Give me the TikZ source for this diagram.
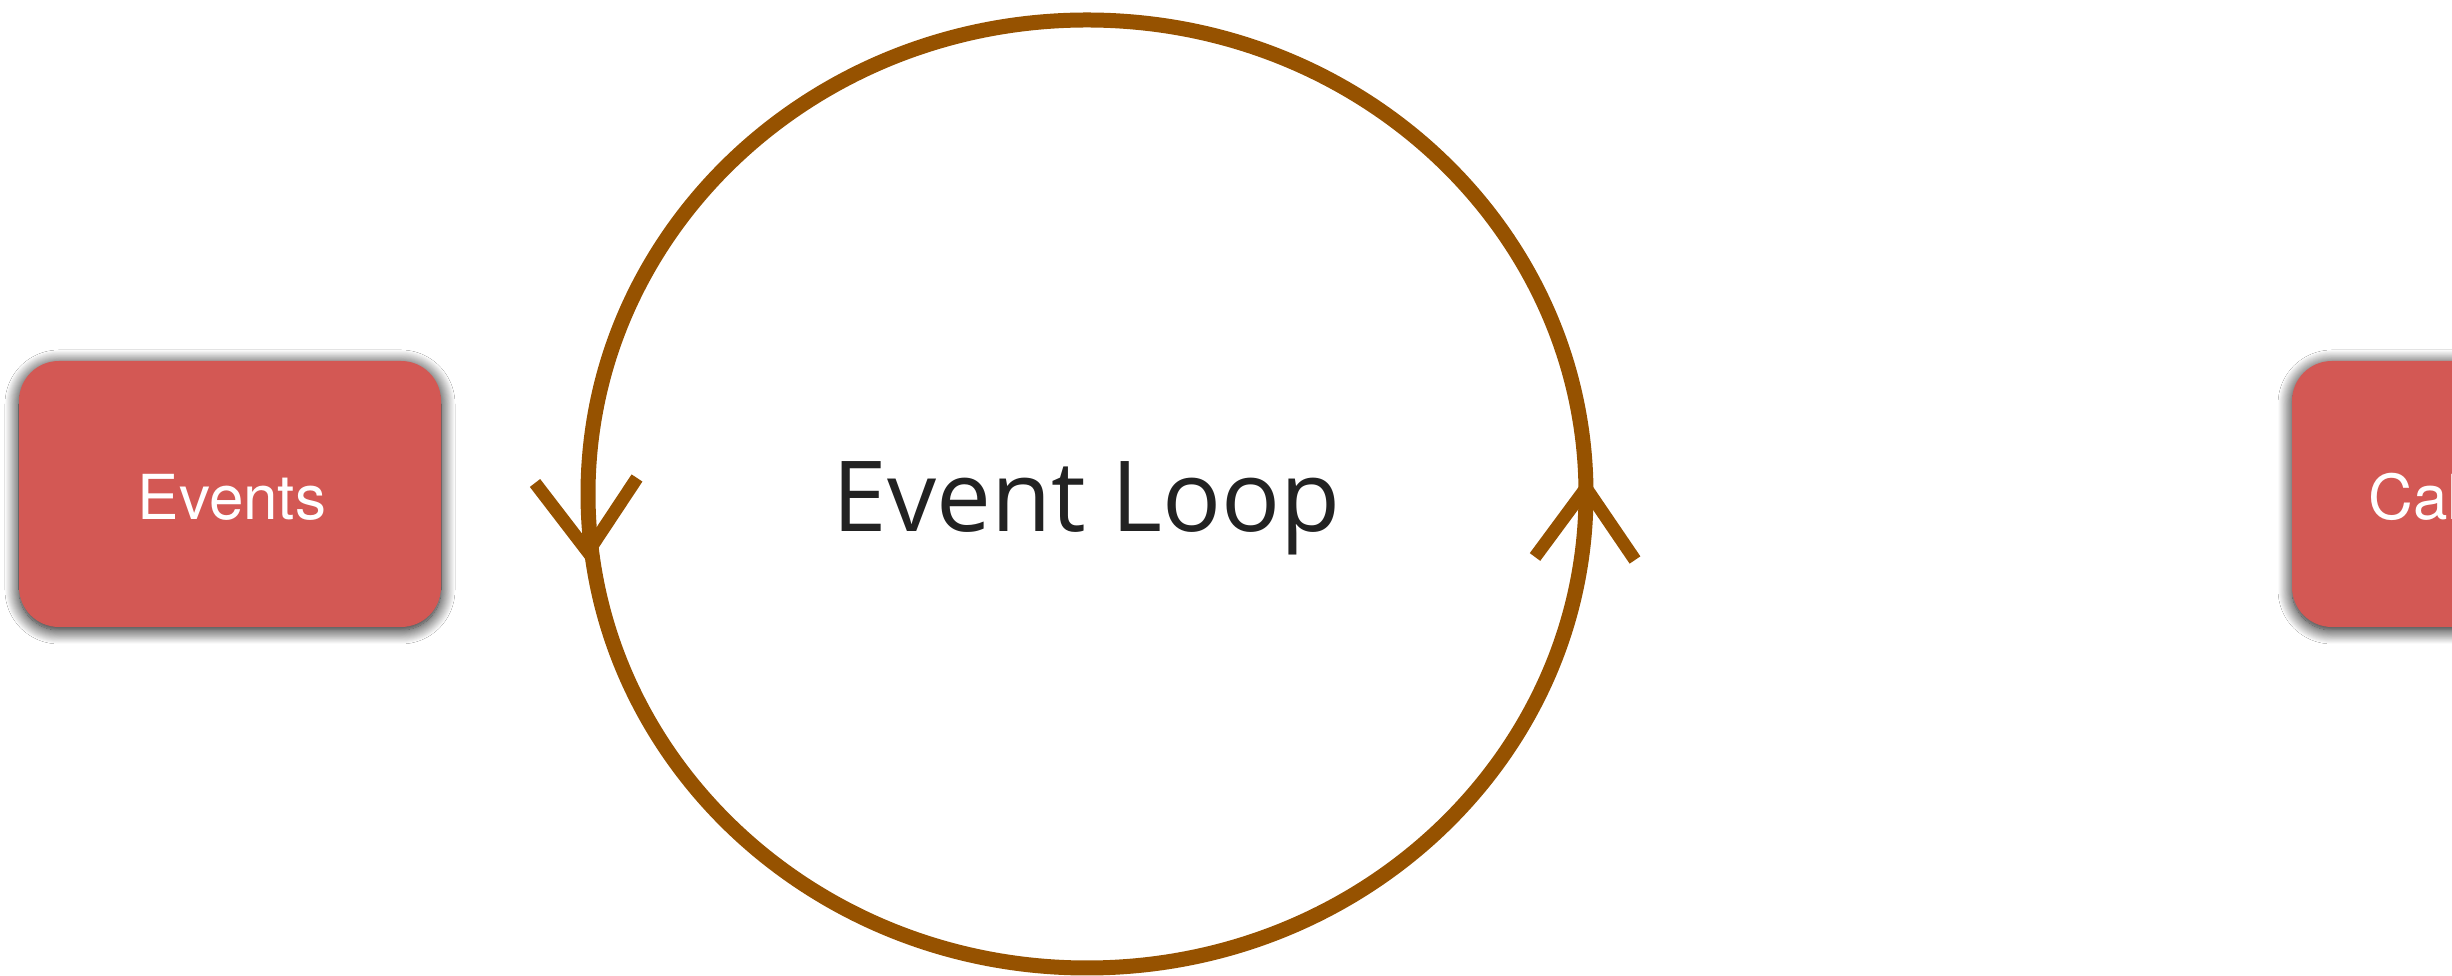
\documentclass[tikz,border=0pt]{standalone}
\usepackage{fontspec}
\usetikzlibrary{shapes.geometric,shadows.blur}
\newfontfamily\loopfont{Open Sans}
\newfontfamily\boxfont{TeX Gyre Heros}
\definecolor{loopbrown}{RGB}{150,82,0}
\definecolor{boxred}{RGB}{211,88,84}
\definecolor{looptextcol}{RGB}{34,34,34}
\tikzset{
  redbox/.style={draw=none, fill=boxred, rounded corners=40pt,
    minimum width=422pt, minimum height=266pt, inner sep=0pt,
    blur shadow={shadow xshift=0pt, shadow yshift=-3pt, shadow blur radius=14pt, shadow opacity=100, shadow blur steps=16, shadow blur extra rounding=4pt}},
  boxtext/.style={text=white, font=\boxfont\fontsize{62}{70}\selectfont, inner sep=0pt, anchor=base},
  loopline/.style={draw=loopbrown, line width=15pt},
  headline/.style={draw=loopbrown, line width=13pt, line cap=butt, line join=miter},
  looplabel/.style={text=looptextcol, font=\loopfont\fontsize{98}{110}\selectfont, inner sep=0pt, anchor=base}
}
\begin{document}
\begin{tikzpicture}[x=1pt,y=1pt]
\useasboundingbox (0,0) rectangle (2452,976);
\clip (0,0) rectangle (2452,976);
\fill[white] (0,0) rectangle (2452,976);
% boxes
\node[redbox] (events) at (230,482) {};
\node[boxtext] (eventstext) at (232,456) {Events};
\node[redbox] (callbacks) at (2503,482) {};
\node[boxtext] (callbackstext) at (2503,456) {Callbacks};
% event loop
\node[ellipse, loopline, minimum width=998pt, minimum height=948pt, inner sep=0pt] (loop) at (1087,482) {};
\node[looplabel] (looptext) at (1087,444) {Event Loop};
% arrowheads
\coordinate (ltip) at (588,424);
\coordinate (lwa) at (535,493);
\coordinate (lwb) at (637,498);
\coordinate (rtip) at (1586,488);
\coordinate (rwa) at (1535,419);
\coordinate (rwb) at (1635,416);
\draw[headline] (lwa) -- (ltip) -- (lwb);
\draw[headline] (rwa) -- (rtip) -- (rwb);
\end{tikzpicture}
\end{document}
